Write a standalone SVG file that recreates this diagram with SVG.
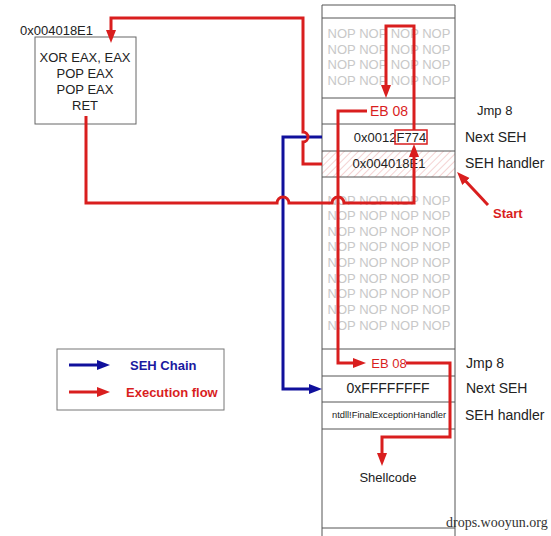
<svg xmlns="http://www.w3.org/2000/svg" width="551" height="536" viewBox="0 0 551 536">
<style>
.t{font-family:"Liberation Sans",Arial,sans-serif;font-size:13px;fill:#222;text-anchor:middle}
.l{font-family:"Liberation Sans",Arial,sans-serif;font-size:14px;fill:#222}
.nop{font-family:"Liberation Sans",Arial,sans-serif;font-size:13px;fill:#c8c8c8;text-anchor:middle}
.sep{stroke:#555;stroke-width:1}
.red{fill:none;stroke:#d91e1e;stroke-width:3;marker-end:url(#ar)}
.blue{fill:none;stroke:#10109c;stroke-width:3;marker-end:url(#ab)}
</style>
<defs>
<marker id="ar" markerUnits="userSpaceOnUse" markerWidth="14" markerHeight="11" refX="3" refY="5" orient="auto"><path d="M0,0 L13,5 L0,10 z" fill="#d91e1e"/></marker>
<marker id="ab" markerUnits="userSpaceOnUse" markerWidth="14" markerHeight="11" refX="3" refY="5" orient="auto"><path d="M0,0 L13,5 L0,10 z" fill="#10109c"/></marker>
<pattern id="hatch" patternUnits="userSpaceOnUse" width="5" height="5" patternTransform="rotate(45)"><line x1="0" y1="0" x2="0" y2="5" stroke="#e9a8a8" stroke-width="1"/></pattern>
</defs>
<rect width="551" height="536" fill="#fff"/>

<g id="stack">
<rect x="322" y="151" width="133" height="26" fill="url(#hatch)"/>
<line class="sep" x1="322" y1="5" x2="322" y2="536"/>
<line class="sep" x1="455" y1="5" x2="455" y2="536"/>
<line class="sep" x1="322" y1="5" x2="455" y2="5"/>
<line class="sep" x1="322" y1="18" x2="455" y2="18"/>
<line class="sep" x1="322" y1="98" x2="455" y2="98"/>
<line class="sep" x1="322" y1="124" x2="455" y2="124"/>
<line class="sep" x1="322" y1="151" x2="455" y2="151"/>
<line class="sep" x1="322" y1="177" x2="455" y2="177"/>
<line class="sep" x1="322" y1="349" x2="455" y2="349"/>
<line class="sep" x1="322" y1="376" x2="455" y2="376"/>
<line class="sep" x1="322" y1="402" x2="455" y2="402"/>
<line class="sep" x1="322" y1="429" x2="455" y2="429"/>
<line class="sep" x1="322" y1="528" x2="455" y2="528"/>
<text class="nop" x="389" y="38">NOP NOP NOP NOP</text>
<text class="nop" x="389" y="54">NOP NOP NOP NOP</text>
<text class="nop" x="389" y="69">NOP NOP NOP NOP</text>
<text class="nop" x="389" y="85">NOP NOP NOP NOP</text>
<text class="nop" x="389" y="205">NOP NOP NOP NOP</text>
<text class="nop" x="389" y="220">NOP NOP NOP NOP</text>
<text class="nop" x="389" y="236">NOP NOP NOP NOP</text>
<text class="nop" x="389" y="251">NOP NOP NOP NOP</text>
<text class="nop" x="389" y="267">NOP NOP NOP NOP</text>
<text class="nop" x="389" y="283">NOP NOP NOP NOP</text>
<text class="nop" x="389" y="298">NOP NOP NOP NOP</text>
<text class="nop" x="389" y="314">NOP NOP NOP NOP</text>
<text class="nop" x="389" y="330">NOP NOP NOP NOP</text>
<text class="t" x="389" y="116" style="fill:#d91e1e;font-size:14px">EB 08</text>
<text class="t" x="390" y="142">0x0012F774</text>
<rect x="395" y="130" width="32" height="14" fill="none" stroke="#d91e1e" stroke-width="1.5"/>
<text class="t" x="389" y="168">0x004018E1</text>
<text class="t" x="389" y="368" style="fill:#d91e1e">EB 08</text>
<text class="t" x="388" y="393" style="font-size:14px">0xFFFFFFFF</text>
<text class="t" x="389" y="418" style="font-size:9.4px">ntdll!FinalExceptionHandler</text>
<text class="t" x="388" y="482">Shellcode</text>
</g>

<g id="labels">
<text class="l" x="477" y="115" style="font-size:13px">Jmp 8</text>
<text class="l" x="465" y="142">Next SEH</text>
<text class="l" x="465" y="168">SEH handler</text>
<text class="l" x="466" y="368">Jmp 8</text>
<text class="l" x="466" y="393">Next SEH</text>
<text class="l" x="465" y="420">SEH handler</text>
</g>

<g id="gadget">
<rect x="35" y="37" width="101" height="87" fill="#fff" stroke="#666" stroke-width="1"/>
<text class="t" x="20" y="35" style="text-anchor:start">0x004018E1</text>
<text class="t" x="85" y="62">XOR EAX, EAX</text>
<text class="t" x="85" y="78">POP EAX</text>
<text class="t" x="85" y="94">POP EAX</text>
<text class="t" x="85" y="110">RET</text>
</g>

<g id="legend">
<rect x="57" y="349" width="167" height="61" fill="#fff" stroke="#777" stroke-width="1"/>
<line x1="69" y1="365" x2="100" y2="365" stroke="#10109c" stroke-width="3" marker-end="url(#ab)"/>
<line x1="69" y1="392" x2="100" y2="392" stroke="#d91e1e" stroke-width="3" marker-end="url(#ar)"/>
<text x="130" y="370" style="font-family:'Liberation Sans',Arial,sans-serif;font-size:13px;font-weight:bold;fill:#1a1aa0">SEH Chain</text>
<text x="126" y="397" style="font-family:'Liberation Sans',Arial,sans-serif;font-size:13px;font-weight:bold;fill:#d91e1e">Execution flow</text>
</g>

<g id="start">
<text x="493" y="218" style="font-family:'Liberation Sans',Arial,sans-serif;font-size:13px;font-weight:bold;fill:#d91e1e">Start</text>
</g>

<g id="connectors">
<path class="blue" d="M322,137 H283 V389 H312"/>
<path class="red" d="M322,164 H303 V142 a5,5 0 0 0 0,-10 V18 H111 V33"/>
<path class="red" d="M86,116 V203 H277 a6,6 0 0 1 12,0 H332 a6,6 0 0 1 12,0 H414 V154"/>
<path class="red" d="M414,130 V26 H386 V88"/>
<path class="red" d="M367,111 H338 V363 H356"/>
<path class="red" d="M406,363 H450 V437 H382 V456"/>
<path class="red" d="M488,205 L463.9,179.3"/>
</g>

<text x="446" y="527" style="font-family:'Liberation Serif','Times New Roman',serif;font-size:14px;fill:#333">drops.wooyun.org</text>
</svg>
